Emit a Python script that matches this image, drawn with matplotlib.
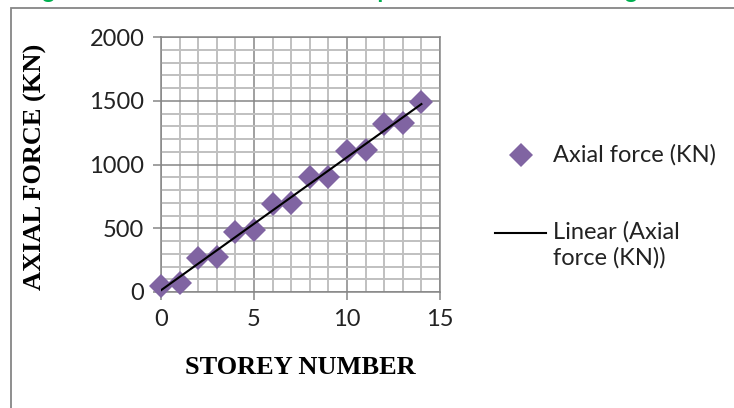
"""
Axial force in columns against storey number, with linear trendline
"""
import matplotlib.pyplot as plt
import numpy as np
from matplotlib.lines import Line2D
from matplotlib.patches import Rectangle
from matplotlib.ticker import MultipleLocator

PURPLE = '#8064A2'
GRID_MINOR = '#C0C0C0'
GRID_MAJOR = '#868686'
GREEN = '#00B050'

storey = [0, 1, 2, 3, 4, 5, 6, 7, 8, 9, 10, 11, 12, 13, 14]
axial_force = [47, 68, 264, 277, 473, 486, 690, 695, 900, 904, 1108, 1114, 1315, 1323, 1493]

x_ticks = [0, 5, 10, 15]
y_ticks = [0, 500, 1000, 1500, 2000]

W, H = 734, 408
fig = plt.figure(figsize=(W / 100, H / 100), dpi=100)
ax = fig.add_axes([161 / W, 1 - 292 / H, (440 - 161) / W, (292 - 37) / H])

ax.set_xlim(0, 15)
ax.set_ylim(0, 2000)
ax.xaxis.set_minor_locator(MultipleLocator(1))
ax.yaxis.set_minor_locator(MultipleLocator(100))
ax.set_xticks(x_ticks)
ax.set_yticks(y_ticks)
ax.grid(which='minor', color=GRID_MINOR, linewidth=1.4, zorder=0)
ax.grid(which='major', color=GRID_MAJOR, linewidth=1.1, zorder=0)
ax.set_axisbelow(True)
for s in ax.spines.values():
    s.set_color(GRID_MAJOR)
    s.set_linewidth(1.1)
ax.tick_params(which='major', length=6, width=1.1, color=GRID_MAJOR,
               labelsize=17, pad=6)
ax.tick_params(which='minor', length=0)
for lab in ax.get_xticklabels() + ax.get_yticklabels():
    lab.set_family('Lato')
    lab.set_color('#222222')

# data points
ax.plot(storey, axial_force, linestyle='none', marker='D', markersize=12,
        color=PURPLE, markeredgewidth=0, zorder=3, clip_on=False)

# linear trendline
m, c = np.polyfit(storey, axial_force, 1)
xs = np.array([storey[0], storey[-1]])
ax.plot(xs, m * xs + c, color='black', linewidth=1.5, zorder=4)

label_font = dict(family='Liberation Serif', fontweight='bold', fontsize=19)
ax.set_xlabel('STOREY NUMBER', **label_font)
ax.set_ylabel('AXIAL FORCE (KN)', **label_font)
ax.xaxis.set_label_coords(0.498, -0.25)
ax.yaxis.set_label_coords(-0.41, 0.49)

# legend
fig.add_artist(Line2D([521 / W], [1 - 155 / H], marker='D', markersize=12,
                      color=PURPLE, markeredgewidth=0, linestyle='none'))
fig.text(553 / W, 1 - 155 / H, 'Axial force (KN)', family='Lato', fontsize=17,
         va='center', ha='left', color='#222222')
fig.add_artist(Line2D([495 / W, 546 / W], [1 - 233 / H, 1 - 233 / H],
                      color='black', linewidth=1.5))
fig.text(553 / W, 1 - 233 / H + 12 / H, 'Linear (Axial\nforce (KN))', family='Lato',
         fontsize=17, va='top', ha='left', linespacing=1.25, color='#222222')

# chart frame
fig.add_artist(Rectangle((10.5 / W, -0.1), 1.2, 1 - 7.5 / H + 0.1,
                         transform=fig.transFigure, fill=False,
                         edgecolor=GRID_MAJOR, linewidth=1.3))

# caption running off the top edge
fig.text(23 / W, 1 + 2 / H, 'Fig 5.4: Axial force in column compared with the floor height',
         color=GREEN, fontweight='bold', family='Lato', fontsize=17,
         va='baseline', ha='left')

fig.savefig('out.png', dpi=100, facecolor='white')
plt.close()
